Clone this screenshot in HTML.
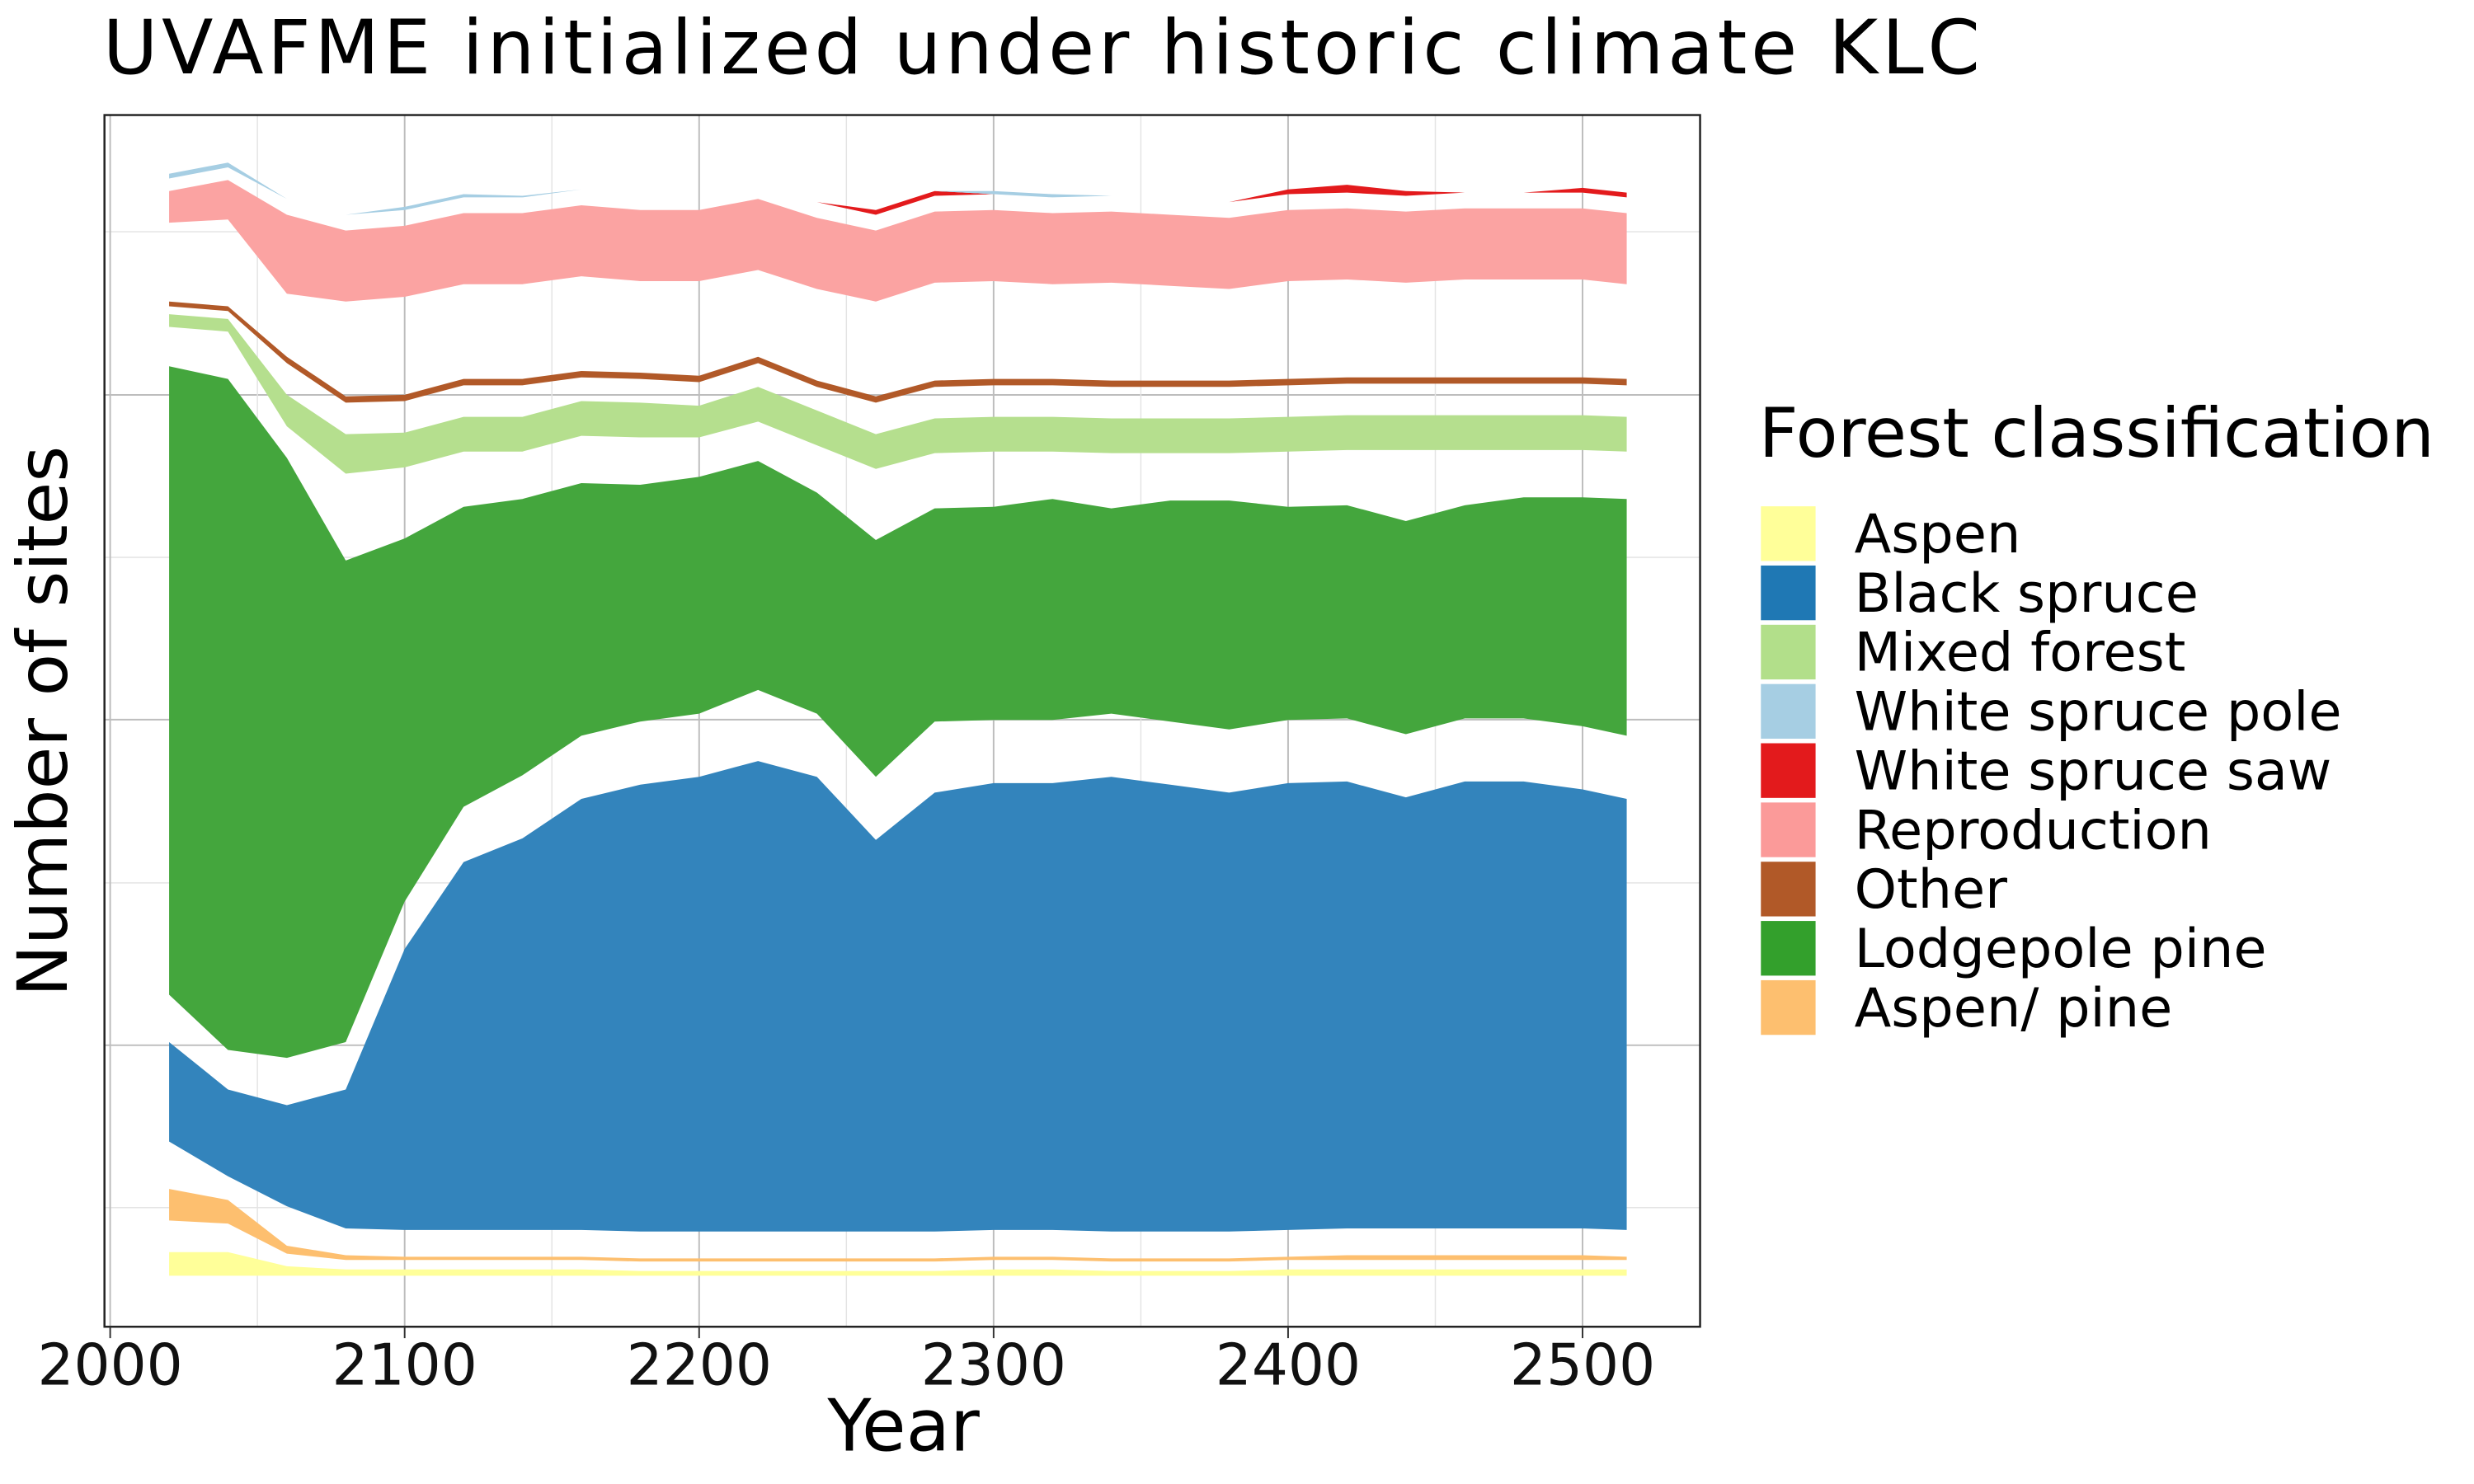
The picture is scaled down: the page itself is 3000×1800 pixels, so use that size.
<!DOCTYPE html>
<html><head><meta charset="utf-8"><style>
html,body{margin:0;padding:0;background:#fff;}
svg{display:block;font-family:"DejaVu Sans","Liberation Sans",sans-serif;}
</style></head><body>
<svg id="chart" width="3000" height="1800" viewBox="0 0 3000 1800" xmlns="http://www.w3.org/2000/svg">
<rect width="3000" height="1800" fill="#fff"/>
<g transform="scale(0.9897)">
<text x="126" y="90" font-size="92" fill="#000" textLength="2300">UVAFME initialized under historic climate KLC</text>
<g id="grid"></g>
<g id="layers"></g>
<rect x="128" y="141" width="1955" height="1485" fill="none" stroke="#222" stroke-width="2.5"/>
<g id="xaxis"></g>
<text x="1107" y="1778" font-size="88" text-anchor="middle">Year</text>
<text transform="translate(82,884) rotate(-90)" font-size="85" text-anchor="middle">Number of sites</text>
<g id="legend">
<text x="2155" y="560" font-size="84">Forest classification</text>
</g>
</g>
</svg>
<script>
const years=[2020,2040,2060,2080,2100,2120,2140,2160,2180,2200,2220,2240,2260,2280,2300,2320,2340,2360,2380,2400,2420,2440,2460,2480,2500,2515];
const aspen=[15,15,6,4,4,4,4,4,3,3,3,3,3,3,4,4,3,3,3,4,4,4,4,4,4,4];
const gapA=[20,18,8,6,6,6,6,6,6,6,6,6,6,6,6,6,6,6,6,6,6,6,6,6,6,6];
const aspenPine=[20,15,5,3,2,2,2,2,2,2,2,2,2,2,2,2,2,2,2,2,3,3,3,3,3,2];
const gapB=[30,15,25,17,17,17,17,17,17,17,17,17,17,17,17,17,17,17,17,17,17,17,17,17,17,17];
const blackSpruce=[63,55,64,88,178,233,248,273,283,288,298,288,248,278,283,283,288,283,278,283,283,273,283,283,278,273];
const gapC=[30,25,30,30,30,35,40,40,40,40,45,40,40,45,40,40,40,40,40,40,40,40,40,40,40,40];
const lodgepole=[398,425,380,305,230,190,175,160,150,150,145,140,150,135,135,140,130,140,145,135,135,135,135,140,145,150];
const gapD=[25,30,20,55,45,35,30,30,30,25,25,30,45,35,35,30,35,30,30,35,35,45,35,30,30,30];
const mixedForest=[8,8,20,25,22,22,22,22,22,20,22,22,22,22,22,22,22,22,22,22,22,22,22,22,22,22];
const gapE=[5,5,20,20,20,20,20,15,15,15,15,15,20,20,20,20,20,20,20,20,20,20,20,20,20,20];
const other=[3,3,4,4,4,4,4,4,4,4,4,4,4,4,4,4,4,4,4,4,4,4,4,4,4,4];
const gapF=[50,55,40,60,62,60,60,60,58,60,55,58,60,62,62,60,62,60,58,62,62,60,62,62,62,60];
const reproduction=[20,25,50,45,45,45,45,45,45,45,45,45,45,45,45,45,45,45,45,45,45,45,45,45,45,45];
const gapG=[8,8,10,10,10,10,10,10,10,10,10,10,10,10,10,10,10,10,10,10,10,10,10,10,10,10];
const whiteSpruceSaw=[0,0,0,0,0,0,0,0,0,0,0,0,3,3,0,0,0,0,0,3,5,3,0,0,3,3];
const whiteSprucePole=[3,3,0,0,2,2,1,0,0,0,0,0,0,0,2,2,0,0,0,0,0,0,0,0,0,0];
const xTicks=[2000,2100,2200,2300,2400,2500];

const NS="http://www.w3.org/2000/svg";
function xs(y){return 135+(y-2000)*3.608;}
function ys(v){return 1563.5-v*1.935;}
const stack=[
 ["aspen",aspen,"#ffff99"],["gap-a",gapA,"#fff"],["aspen-pine",aspenPine,"#fdbf6f"],["gap-b",gapB,"#fff"],
 ["black-spruce",blackSpruce,"#3384bc"],["gap-c",gapC,"#fff"],["lodgepole-pine",lodgepole,"#44a63d"],["gap-d",gapD,"#fff"],
 ["mixed-forest",mixedForest,"#b5df8e"],["gap-e",gapE,"#fff"],["other",other,"#b15928"],["gap-f",gapF,"#fff"],
 ["reproduction",reproduction,"#fba3a2"],["gap-g",gapG,"#fff"],["white-spruce-saw",whiteSpruceSaw,"#e31a1c"],["white-spruce-pole",whiteSprucePole,"#a6cee3"]
];
const grid=document.getElementById('grid');
function line(x1,y1,x2,y2,c,w,name){const l=document.createElementNS(NS,'line');
 l.setAttribute('x1',x1);l.setAttribute('y1',y1);l.setAttribute('x2',x2);l.setAttribute('y2',y2);
 l.setAttribute('stroke',c);l.setAttribute('stroke-width',w);
 
 
 grid.appendChild(l);}
[284,683,1082,1480].forEach(y=>line(128,y,2083,y,'#e4e4e4',1.5,'minor-gridline'));
[484,882,1281].forEach(y=>line(128,y,2083,y,'#bdbdbd',2,'major-gridline'));
for(let yr=2050;yr<=2550;yr+=100){const x=xs(yr);if(x<2083)line(x,141,x,1626,'#e4e4e4',1.5,'minor-gridline');}
xTicks.forEach(yr=>line(xs(yr),141,xs(yr),1626,'#bdbdbd',2,'major-gridline'));
const lg=document.getElementById('layers');
let base=years.map(()=>0);
stack.forEach(([name,vals,col])=>{
 const top=base.map((b,i)=>b+vals[i]);
 let d='M'+years.map((y,i)=>xs(y).toFixed(1)+','+ys(top[i]).toFixed(1)).join('L');
 for(let i=years.length-1;i>=0;i--)d+='L'+xs(years[i]).toFixed(1)+','+ys(base[i]).toFixed(1);
 d+='Z';
 if(col!=="#fff"){const p=document.createElementNS(NS,'path');p.setAttribute('d',d);p.setAttribute('fill',col);
  
  
  lg.appendChild(p);}
 base=top;
});
const xa=document.getElementById('xaxis');
xTicks.forEach(yr=>{const x=xs(yr);
 const t=document.createElementNS(NS,'line');t.setAttribute('x1',x);t.setAttribute('x2',x);t.setAttribute('y1',1626);t.setAttribute('y2',1640);t.setAttribute('stroke','#333');t.setAttribute('stroke-width',2);
 
 
 xa.appendChild(t);
 const s=document.createElementNS(NS,'text');s.setAttribute('x',x);s.setAttribute('y',1697);s.setAttribute('font-size',70);s.setAttribute('text-anchor','middle');s.setAttribute('fill','#111');s.textContent=yr;
 
 
 xa.appendChild(s);});
const legendItems=[["Aspen","#ffff99"],["Black spruce","#1f78b4"],["Mixed forest","#b2df8a"],["White spruce pole","#a6cee3"],["White spruce saw","#e31a1c"],["Reproduction","#fb9a99"],["Other","#b15928"],["Lodgepole pine","#33a02c"],["Aspen/ pine","#fdbf6f"]];
const leg=document.getElementById('legend');
legendItems.forEach(([lab,col],i)=>{const y=619+i*72.6;
 const r=document.createElementNS(NS,'rect');r.setAttribute('x',2156);r.setAttribute('y',y);r.setAttribute('width',70);r.setAttribute('height',70);r.setAttribute('fill',col);r.setAttribute('stroke','#fff');r.setAttribute('stroke-width',3);
 
 
 leg.appendChild(r);
 const t=document.createElementNS(NS,'text');t.setAttribute('x',2272);t.setAttribute('y',y+58);t.setAttribute('font-size',66);t.textContent=lab;
 
 
 leg.appendChild(t);});
</script>
</body></html>
